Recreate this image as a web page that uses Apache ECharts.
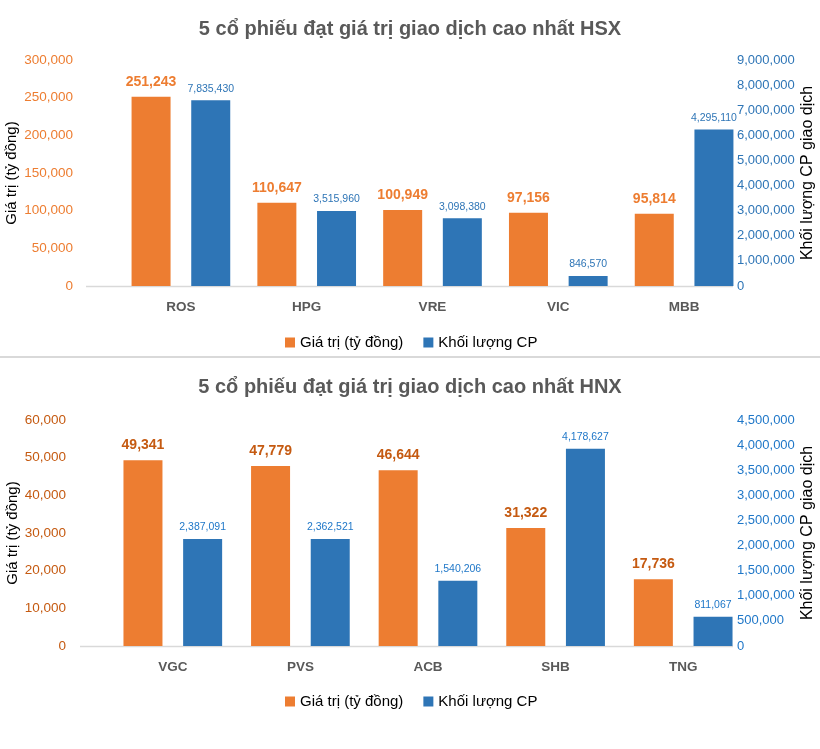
<!DOCTYPE html>
<html>
<head>
<meta charset="utf-8">
<script src="https://cdn.jsdelivr.net/npm/echarts@6/dist/echarts.min.js"></script>
<style>
html,body{margin:0;padding:0;background:#fff;}
#chart{width:820px;height:749px;}
</style>
</head>
<body>
<div id="chart"></div>
<script>
// ---- Data ----
const titleHSX = '5 cổ phiếu đạt giá trị giao dịch cao nhất HSX';
const titleHNX = '5 cổ phiếu đạt giá trị giao dịch cao nhất HNX';
const seriesValueName = 'Giá trị (tỷ đồng)';
const seriesVolumeName = 'Khối lượng CP';
const leftAxisName = 'Giá trị (tỷ đồng)';
const rightAxisName = 'Khối lượng CP giao dịch';

const hsxCategories = ['ROS', 'HPG', 'VRE', 'VIC', 'MBB'];
const hsxValues = [251243, 110647, 100949, 97156, 95814];
// blue bar heights as drawn against the right axis
const hsxVolumeBars = [7400000, 2990000, 2700000, 400000, 6230000];
// blue data labels as printed
const hsxVolumeLabels = [7835430, 3515960, 3098380, 846570, 4295110];

const hnxCategories = ['VGC', 'PVS', 'ACB', 'SHB', 'TNG'];
const hnxValues = [49341, 47779, 46644, 31322, 17736];
const hnxVolumeBars = [2130000, 2130000, 1300000, 3930000, 580000];
const hnxVolumeLabels = [2387091, 2362521, 1540206, 4178627, 811067];

const hsxLeftTicks = {min: 0, max: 300000, interval: 50000};
const hsxRightTicks = {min: 0, max: 9000000, interval: 1000000};
const hnxLeftTicks = {min: 0, max: 60000, interval: 10000};
const hnxRightTicks = {min: 0, max: 4500000, interval: 500000};

// ---- Styles ----
const SANS = '"Liberation Sans", Arial, sans-serif';
const ORANGE = '#ED7D31';
const BLUE = '#2E75B6';
const fmt = v => Number(v).toLocaleString('en-US');

function xAxisCfg(gridIndex, data) {
  return {
    type: 'category', gridIndex, data,
    axisLine: {show: false}, axisTick: {show: false},
    axisLabel: {color: '#595959', fontSize: 13.5, fontWeight: 'bold', fontFamily: SANS, margin: 14}
  };
}
function leftAxisCfg(gridIndex, ticks, color, margin, nameGap) {
  return {
    type: 'value', gridIndex, position: 'left', ...ticks,
    splitLine: {show: false}, axisLine: {show: false}, axisTick: {show: false},
    axisLabel: {color, fontSize: 13.5, fontFamily: SANS, margin, formatter: fmt},
    name: leftAxisName, nameLocation: 'middle', nameGap, nameMoveOverlap: false,
    nameTextStyle: {color: '#000', fontSize: 15, fontFamily: SANS}
  };
}
function rightAxisCfg(gridIndex, ticks, color, nameGap) {
  return {
    type: 'value', gridIndex, position: 'right', offset: -10, ...ticks,
    splitLine: {show: false}, axisLine: {show: false}, axisTick: {show: false},
    axisLabel: {color, fontSize: 13, fontFamily: SANS, margin: 0, formatter: fmt},
    name: rightAxisName, nameLocation: 'middle', nameGap, nameMoveOverlap: false,
    nameTextStyle: {color: '#000', fontSize: 16, fontFamily: SANS}
  };
}
function valueSeries(xi, yi, data, labelColor) {
  return {
    name: seriesValueName, type: 'bar', xAxisIndex: xi, yAxisIndex: yi, data,
    barWidth: 39, barGap: '53%',
    itemStyle: {color: ORANGE},
    label: {show: true, position: 'top', distance: 8, color: labelColor,
      fontSize: 14, fontWeight: 'bold', fontFamily: SANS, formatter: p => fmt(p.value)}
  };
}
function volumeSeries(xi, yi, data, labels, labelColor) {
  return {
    name: seriesVolumeName, type: 'bar', xAxisIndex: xi, yAxisIndex: yi, data,
    barWidth: 39, barGap: '53%',
    itemStyle: {color: BLUE},
    label: {show: true, position: 'top', distance: 6, color: labelColor,
      fontSize: 10.5, fontFamily: SANS, formatter: p => fmt(labels[p.dataIndex])}
  };
}
function legendCfg(top) {
  return {
    top, left: 280, itemWidth: 10, itemHeight: 10, itemGap: 20,
    icon: 'rect',
    textStyle: {color: '#000', fontSize: 15, fontFamily: SANS},
    data: [seriesValueName, seriesVolumeName],
    selectedMode: false
  };
}

const chart = echarts.init(document.getElementById('chart'), null, {renderer: 'canvas'});
chart.setOption({
  backgroundColor: '#fff',
  animation: false,
  title: [
    {text: titleHSX, left: 'center', top: 14,
      textStyle: {color: '#595959', fontSize: 20, fontWeight: 'bold', fontFamily: SANS}},
    {text: titleHNX, left: 'center', top: 372,
      textStyle: {color: '#595959', fontSize: 20, fontWeight: 'bold', fontFamily: SANS}}
  ],
  legend: [legendCfg(330), legendCfg(689)],
  grid: [
    {left: 118, right: 73, top: 60, height: 226, outerBoundsMode: 'none', containLabel: false},
    {left: 109, right: 73, top: 420, height: 226, outerBoundsMode: 'none', containLabel: false}
  ],
  xAxis: [xAxisCfg(0, hsxCategories), xAxisCfg(1, hnxCategories)],
  yAxis: [
    leftAxisCfg(0, hsxLeftTicks, ORANGE, 45, 99),
    rightAxisCfg(0, hsxRightTicks, BLUE, 63),
    leftAxisCfg(1, hnxLeftTicks, '#C55A11', 43, 89),
    rightAxisCfg(1, hnxRightTicks, '#1F77C8', 63)
  ],
  series: [
    valueSeries(0, 0, hsxValues, ORANGE),
    volumeSeries(0, 1, hsxVolumeBars, hsxVolumeLabels, BLUE),
    valueSeries(1, 2, hnxValues, '#C55A11'),
    volumeSeries(1, 3, hnxVolumeBars, hnxVolumeLabels, '#1F77C8')
  ],
  graphic: [
    {type: 'line', z: -1, shape: {x1: 86, y1: 286.5, x2: 733, y2: 286.5}, style: {stroke: '#D9D9D9', lineWidth: 1.5}},
    {type: 'line', z: -1, shape: {x1: 80, y1: 646.5, x2: 733, y2: 646.5}, style: {stroke: '#D9D9D9', lineWidth: 1.5}},
    {type: 'line', shape: {x1: 0, y1: 357, x2: 820, y2: 357}, style: {stroke: '#D9D9D9', lineWidth: 2}}
  ]
});
</script>
</body>
</html>
